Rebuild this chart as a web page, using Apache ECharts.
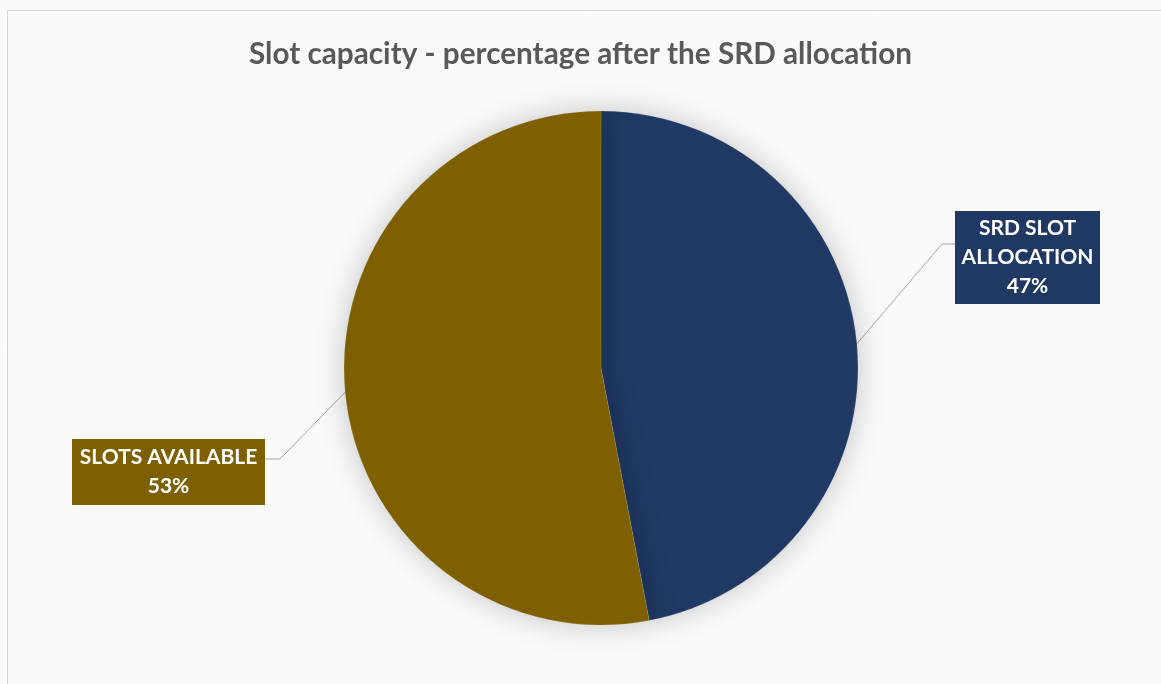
<!DOCTYPE html>
<html>
<head>
<meta charset="utf-8">
<script src="https://cdn.jsdelivr.net/npm/echarts@6/dist/echarts.min.js"></script>
<style>
  html, body { margin: 0; padding: 0; background: #ffffff; }
  #chart { width: 1161px; height: 684px; }
</style>
</head>
<body>
<div id="chart"></div>
<script>
// Slot capacity split after the SRD allocation
const titleText = 'Slot capacity - percentage after the SRD allocation';
const categories = ['SRD SLOT\nALLOCATION', 'SLOTS AVAILABLE'];
const values = [47, 53];
const colors = ['#203864', '#7F6000'];

const chart = echarts.init(document.getElementById('chart'));
const W = chart.getWidth();
const H = chart.getHeight();

// label box placement (top centre) and elbow of each leader line, as fractions of the canvas
const labelBoxes = [
  { cx: 1027.5 / 1161, y: 211 / 684, elbowX: 942 / 1161, elbowY: 244 / 684, endX: 955 / 1161 },
  { cx: 168.5 / 1161, y: 439 / 684, elbowX: 280 / 1161, elbowY: 459 / 684, endX: 265 / 1161 }
];
const labelWidths = [125, 177];
const labelPadding = [[3, 10, 3, 10], [4, 8, 4, 8]];

const option = {
  backgroundColor: '#fafafa',
  animation: false,
  title: {
    text: titleText,
    left: 'center',
    top: 34,
    textStyle: {
      fontFamily: 'Lato, "Open Sans", sans-serif',
      fontSize: 29.7,
      fontWeight: 'bold',
      color: '#595959'
    }
  },
  graphic: [{
    type: 'rect',
    silent: true,
    shape: { x: 7.5, y: 10.5, width: 1300, height: 800 },
    style: { fill: 'none', stroke: '#d6d6d6', lineWidth: 1 }
  }],
  series: [{
    type: 'pie',
    center: [601, 368],
    radius: 257,
    startAngle: 90,
    clockwise: true,
    percentPrecision: 0,
    data: categories.map((name, i) => ({
      name: name,
      value: values[i],
      itemStyle: { color: colors[i] },
      label: {
        backgroundColor: colors[i],
        width: labelWidths[i],
        padding: labelPadding[i]
      }
    })),
    itemStyle: {
      borderColor: 'rgba(255,255,255,0.25)',
      borderWidth: 0.5,
      shadowBlur: 30,
      shadowColor: 'rgba(0,0,0,0.22)'
    },
    label: {
      show: true,
      position: 'outside',
      formatter: '{b}\n{d}%',
      overflow: 'none',
      color: '#ffffff',
      fontFamily: 'Lato, "Open Sans", sans-serif',
      fontSize: 21,
      fontWeight: 'bold',
      lineHeight: 29
    },
    labelLine: {
      show: true,
      length: 20,
      length2: 20,
      lineStyle: { color: '#a6a6a6', width: 1 }
    },
    labelLayout: function (params) {
      const b = labelBoxes[params.dataIndex];
      const start = params.labelLinePoints ? params.labelLinePoints[0] : [0, 0];
      return {
        x: b.cx * W,
        y: b.y * H,
        align: 'center',
        verticalAlign: 'top',
        labelLinePoints: [
          start,
          [b.elbowX * W, b.elbowY * H],
          [b.endX * W, b.elbowY * H]
        ]
      };
    }
  }]
};

chart.setOption(option);
</script>
</body>
</html>
